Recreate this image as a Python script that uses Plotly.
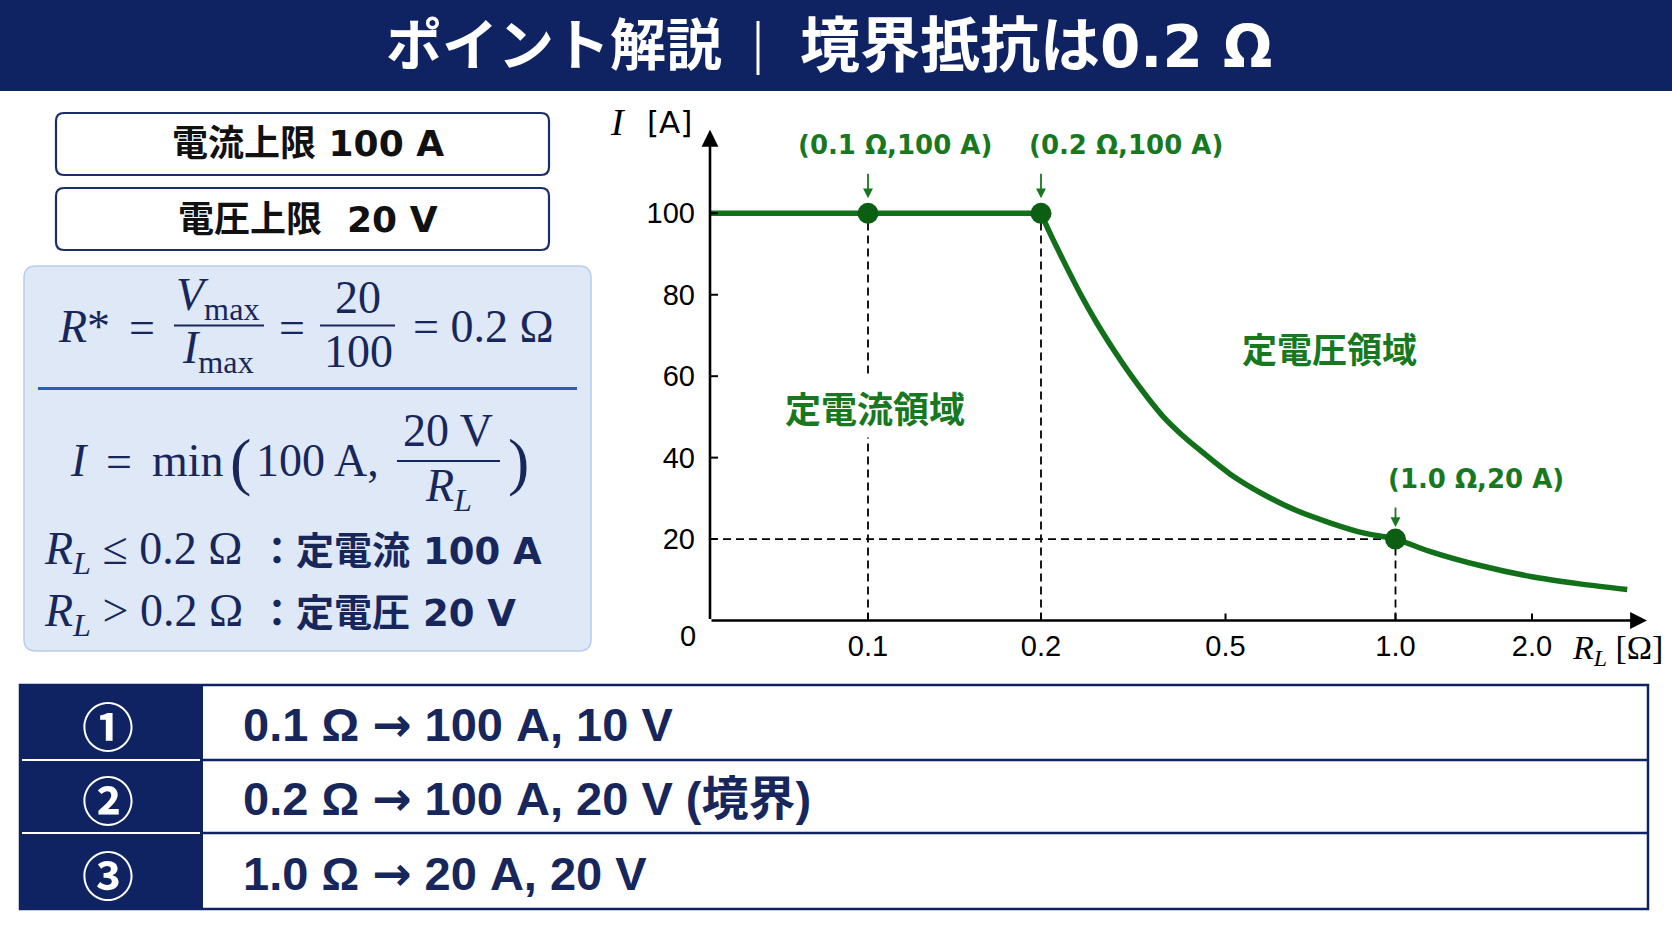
import numpy as np
import plotly.graph_objects as go

# ---------------- data ----------------
CURVE_R = [0.0, 0.1, 0.2, 0.215, 0.236, 0.263, 0.291, 0.318, 0.345, 0.372, 0.399,
           0.426, 0.453, 0.513, 0.611, 0.709, 0.807, 0.905, 1.0, 1.25, 1.62, 1.99, 2.35, 2.70]
CURVE_I = [100, 100, 100, 95, 88.5, 80.5, 73, 66.5, 60.5, 55, 50,
           46, 42.5, 36, 31, 27, 24, 21.5, 20, 17, 13.5, 10.8, 9, 7.6]

POINT_R = [0.1, 0.2, 1.0]
POINT_I = [100, 100, 20]
POINT_LABELS = ["(0.1 Ω,100 A)", "(0.2 Ω,100 A)", "(1.0 Ω,20 A)"]

X_TICK_R = [0.1, 0.2, 0.5, 1.0, 2.0]
X_TICK_TEXT = ["0.1", "0.2", "0.5", "1.0", "2.0"]
Y_TICKS = [20, 40, 60, 80, 100]

LIMIT_BOXES = ["電流上限 100 A", "電圧上限\u00a0 20 V"]
REGION_LABELS = ["定電流領域", "定電圧領域"]
TABLE_NUMS = ["①", "②", "③"]
TABLE_ROWS = [("0.1 Ω", "100 A, 10 V"), ("0.2 Ω", "100 A, 20 V (境界)"), ("1.0 Ω", "20 A, 20 V")]
CONDITIONS = [("≤", "定電流 100 A"), (">", "定電圧 20 V")]

TITLE_LEFT = "ポイント解説"
TITLE_RIGHT = ("境界抵抗は", "0.2 Ω")

# non-uniform horizontal scale of the drawn axis (R value -> axis position)
SCALE_R = [0, 0.1, 0.2, 0.5, 1.0, 2.0, 3.0]
SCALE_POS = [0, 158, 331, 515.5, 685.5, 822, 958]


def xpos(r):
    return np.interp(r, SCALE_R, SCALE_POS)


# ---------------- styling ----------------
W, H = 1672, 941
NAVY = "#0f2262"
TXT_NAVY = "#17275c"
GREEN = "#12701a"
GREEN_DOT = "#0c5f12"
GREEN_TXT = "#18781f"
CJK = "Noto Sans CJK JP"
SANS = "Liberation Sans, Noto Sans CJK JP"
WIDE = "DejaVu Sans, Noto Sans CJK JP"
SERIF = "Liberation Serif, DejaVu Serif"


def px(x):
    return x / W


def py(y):
    return 1 - y / H


def rrect_path(x0, y0, x1, y1, r):
    X = lambda v: f"{v / W:.5f}"
    Y = lambda v: f"{1 - v / H:.5f}"
    return (f"M {X(x0 + r)},{Y(y0)} L {X(x1 - r)},{Y(y0)} Q {X(x1)},{Y(y0)} {X(x1)},{Y(y0 + r)} "
            f"L {X(x1)},{Y(y1 - r)} Q {X(x1)},{Y(y1)} {X(x1 - r)},{Y(y1)} L {X(x0 + r)},{Y(y1)} "
            f"Q {X(x0)},{Y(y1)} {X(x0)},{Y(y1 - r)} L {X(x0)},{Y(y0 + r)} Q {X(x0)},{Y(y0)} {X(x0 + r)},{Y(y0)} Z")


fig = go.Figure()

# ---------------- chart traces ----------------
DASH = dict(color="black", width=1.8, dash="8px,5px")
for r, i in zip(POINT_R, POINT_I):
    fig.add_trace(go.Scatter(x=[xpos(r), xpos(r)], y=[0, i], mode="lines", line=DASH,
                             hoverinfo="skip", showlegend=False))
fig.add_trace(go.Scatter(x=[0, xpos(POINT_R[2])], y=[POINT_I[2], POINT_I[2]], mode="lines", line=DASH,
                         hoverinfo="skip", showlegend=False))
# constant-current part (straight) and constant-voltage part (smooth)
fig.add_trace(go.Scatter(x=xpos(CURVE_R[:3]), y=CURVE_I[:3], mode="lines",
                         line=dict(color=GREEN, width=5.5), hoverinfo="skip", showlegend=False))
fig.add_trace(go.Scatter(x=xpos(CURVE_R[2:]), y=CURVE_I[2:], mode="lines",
                         line=dict(color=GREEN, width=5.5, shape="spline", smoothing=0.8),
                         hoverinfo="skip", showlegend=False))
fig.add_trace(go.Scatter(x=xpos(POINT_R), y=POINT_I, mode="markers",
                         marker=dict(color=GREEN_DOT, size=21, line=dict(width=0)),
                         hoverinfo="skip", showlegend=False))

X_END = 937
Y_END = 120.5

shapes = []
ann = []


def text(x, y, s, size, color, family, xanchor="center", yanchor="middle", **kw):
    ann.append(dict(x=px(x), y=py(y), xref="paper", yref="paper", text=s, showarrow=False,
                    xanchor=xanchor, yanchor=yanchor,
                    font=dict(size=size, color=color, family=family), **kw))


def hline(x0, x1, y, color, width):
    shapes.append(dict(type="line", xref="paper", yref="paper", x0=px(x0), x1=px(x1),
                       y0=py(y), y1=py(y), line=dict(color=color, width=width)))


# axis arrows
for tx, ty in [(X_END, 0), (0, Y_END)]:
    ann.append(dict(x=tx, y=ty, ax=0, ay=0, xref="x", yref="y", axref="x", ayref="y", text="",
                    showarrow=True, arrowhead=2, arrowsize=1.3, arrowwidth=2.6, arrowcolor="black",
                    font=dict(size=12)))

# tick stubs pointing into the plot
for v in Y_TICKS:
    shapes.append(dict(type="line", xref="x", yref="y", xsizemode="pixel", xanchor=0, x0=0, x1=8,
                       y0=v, y1=v, line=dict(color="black", width=2)))
for r in X_TICK_R:
    shapes.append(dict(type="line", xref="x", yref="y", ysizemode="pixel", yanchor=0, y0=0, y1=7,
                       x0=float(xpos(r)), x1=float(xpos(r)), line=dict(color="black", width=2)))

# point labels + small arrows
label_shift = [(27, 68), (85, 68), (80, 60)]
arrow_len = [(-41, 15), (-41, 15), (-33, 12)]
for r, i, lab, (dx, dy), (ay, so) in zip(POINT_R, POINT_I, POINT_LABELS, label_shift, arrow_len):
    ann.append(dict(x=xpos(r), y=i, xref="x", yref="y", text=f"<b>{lab}</b>", showarrow=False,
                    xshift=dx, yshift=dy, font=dict(size=26, color=GREEN_TXT, family=WIDE)))
    ann.append(dict(x=xpos(r), y=i, xref="x", yref="y", text="", showarrow=True, ax=0, ay=ay,
                    standoff=so, arrowhead=2, arrowsize=1.1, arrowwidth=1.8, arrowcolor=GREEN_TXT,
                    font=dict(size=12)))

# region labels
text(875, 407, f"<b>{REGION_LABELS[0]}</b>", 36, GREEN_TXT, CJK, bgcolor="white", borderpad=4)
text(1329, 347, f"<b>{REGION_LABELS[1]}</b>", 35, GREEN_TXT, CJK)

# axis titles and origin
text(618, 122, "<i>I</i>", 38, "black", SERIF)
text(694, 122, "[A]", 31, "black", "DejaVu Sans", xanchor="right")
text(1665, 650, "<i>R</i><sub><i>L</i></sub> [Ω]", 34, "black", SERIF, xanchor="right")
text(688, 636, "0", 29, "black", SANS)

# ---------------- title bar ----------------
shapes.append(dict(type="rect", xref="paper", yref="paper", x0=0, x1=1, y0=py(91), y1=1,
                   fillcolor=NAVY, line=dict(width=0), layer="below"))
text(724, 46, f"<b>{TITLE_LEFT}</b>", 56, "white", WIDE, xanchor="right")
shapes.append(dict(type="line", xref="paper", yref="paper", x0=px(758), x1=px(758), y0=py(21), y1=py(75),
                   line=dict(color="white", width=3)))
text(798, 46, f"<b>{TITLE_RIGHT[0]}<span style=\"font-size:58px\">{TITLE_RIGHT[1]}</span></b>",
     60, "white", WIDE, xanchor="left")

# ---------------- limit boxes ----------------
for k, (y0, y1) in enumerate([(113, 175), (188, 250)]):
    shapes.append(dict(type="path", xref="paper", yref="paper", path=rrect_path(56, y0, 549, y1, 8),
                       fillcolor="white", line=dict(color="#1c2d6b", width=2.2), layer="below"))
    text(308, (y0 + y1) / 2, f"<b>{LIMIT_BOXES[k]}</b>", 36, "#111111", WIDE)

# ---------------- formula panel ----------------
shapes.append(dict(type="path", xref="paper", yref="paper", path=rrect_path(24, 266, 591, 651, 12),
                   fillcolor="#dee8f6", line=dict(color="#b9cdea", width=1.5), layer="below"))
hline(38, 577, 388.5, "#2d5fb4", 3)

FS = 46
text(84, 326, "<i>R</i>*", FS, TXT_NAVY, SERIF)
text(142, 327, "=", FS, TXT_NAVY, SERIF)
text(218, 298, "<i>V</i><sub>max</sub>", FS, TXT_NAVY, SERIF)
hline(174, 264, 325.5, TXT_NAVY, 2.2)
text(218, 351, "<i>I</i><sub>max</sub>", FS, TXT_NAVY, SERIF)
text(292, 327, "=", FS, TXT_NAVY, SERIF)
text(358, 297, "20", FS, TXT_NAVY, SERIF)
hline(320, 395, 325.5, TXT_NAVY, 2.2)
text(358, 351, "100", FS, TXT_NAVY, SERIF)
text(411, 326, "= 0.2 Ω", FS, TXT_NAVY, SERIF, xanchor="left")

text(79, 460, "<i>I</i>", FS, TXT_NAVY, SERIF)
text(119, 461, "=", FS, TXT_NAVY, SERIF)
text(150, 460, "min", FS, TXT_NAVY, SERIF, xanchor="left")
text(241, 461, "(", 64, TXT_NAVY, SERIF)
text(254, 460, "100 A,", FS, TXT_NAVY, SERIF, xanchor="left")
text(448, 431, "20 V", FS, TXT_NAVY, SERIF)
hline(397, 500, 461, TXT_NAVY, 2.2)
text(448, 489, "<i>R</i><sub><i>L</i></sub>", FS, TXT_NAVY, SERIF)
text(518, 461, ")", 64, TXT_NAVY, SERIF)

for (op, rest), yy in zip(CONDITIONS, [552, 614]):
    text(42, yy, f"<i>R</i><sub><i>L</i></sub> {op} 0.2 Ω", FS, TXT_NAVY, SERIF, xanchor="left")
    text(256, yy - 1, f"<b><span style=\"font-size:38px\">：{rest[:3]}</span>{rest[3:]}</b>",
         37, TXT_NAVY, WIDE, xanchor="left")

# ---------------- bottom table ----------------
shapes.append(dict(type="rect", xref="paper", yref="paper", x0=px(20), x1=px(1648), y0=py(909), y1=py(685),
                   fillcolor="white", line=dict(color=NAVY, width=2.5), layer="below"))
shapes.append(dict(type="rect", xref="paper", yref="paper", x0=px(20), x1=px(203), y0=py(909), y1=py(685),
                   fillcolor=NAVY, line=dict(width=0), layer="below"))
for ys in (760, 833):
    hline(203, 1648, ys, NAVY, 2.5)
    hline(22, 200, ys, "white", 2)
for k, yy in enumerate([724, 798, 873]):
    text(108, yy, f"<b>{TABLE_NUMS[k]}</b>", 52, "white", CJK)
    left, right = TABLE_ROWS[k]
    text(241, yy, f"<b>{left} <span style=\"font-family:DejaVu Sans\">→</span> {right}</b>",
         47, TXT_NAVY, SANS, xanchor="left")

fig.update_layout(
    width=W, height=H, margin=dict(l=0, r=0, t=0, b=0),
    paper_bgcolor="white", plot_bgcolor="rgba(0,0,0,0)",
    shapes=shapes, annotations=ann, showlegend=False,
    xaxis=dict(domain=[px(710), px(1647)], range=[0, X_END], showgrid=False, zeroline=False,
               showline=False, tickmode="array", tickvals=list(xpos(X_TICK_R)), ticktext=X_TICK_TEXT,
               ticks="", ticklabelstandoff=5,
               tickfont=dict(family=SANS, size=29, color="black"), fixedrange=True),
    yaxis=dict(domain=[py(620.5), py(620.5 - Y_END * 4.072)], range=[0, Y_END], showgrid=False,
               zeroline=False, showline=False, tickmode="array", tickvals=Y_TICKS,
               ticktext=[str(v) for v in Y_TICKS], ticks="", ticklabelstandoff=14,
               tickfont=dict(family=SANS, size=29, color="black"), fixedrange=True),
)

fig.write_html("out.html", config={"displayModeBar": False},
               post_script="document.body.style.margin='0';")
